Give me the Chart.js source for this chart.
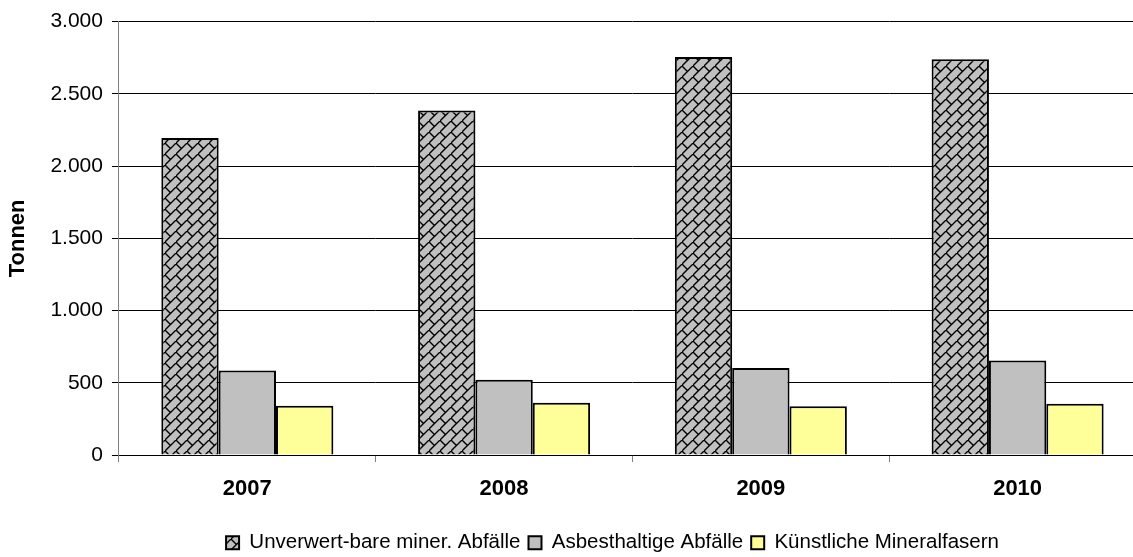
<!DOCTYPE html>
<html lang="de">
<head>
    <meta charset="UTF-8">
    <title>Abfälle Tonnen</title>
    <style>
        html, body {
            margin: 0;
            padding: 0;
            background: #fff;
            overflow: hidden;
        }
        .wrap {
            width: 1240px;
            height: 565px;
        }
    </style>
    <script src="https://cdn.jsdelivr.net/npm/chart.js"></script>
</head>
<body>
    <div class="wrap">
        <canvas id="chart" width="1240" height="565"></canvas>
    </div>

    <script>
        // data
        const years = ['2007', '2008', '2009', '2010'];
        const seriesNames = ['Unverwert-bare miner. Abfälle', 'Asbesthaltige Abfälle', 'Künstliche Mineralfasern'];
        const unverwertbar = [2195, 2385, 2755, 2740];
        const asbest = [585, 522, 603, 655];
        const mineralfasern = [342, 363, 338, 356];
        const yTicks = [0, 500, 1000, 1500, 2000, 2500, 3000];

        // diagonal brick hatch
        function brickPattern() {
            const s = 11;
            const t = document.createElement('canvas');
            t.width = s; t.height = s;
            const c = t.getContext('2d');
            c.fillStyle = '#c0c0c0';
            c.fillRect(0, 0, s, s);
            c.strokeStyle = '#000';
            c.lineWidth = 1.4;
            c.beginPath();
            c.moveTo(-1, s + 1); c.lineTo(s + 1, -1);
            c.moveTo(0, 0); c.lineTo(s / 2, s / 2);
            c.stroke();
            return c.createPattern(t, 'repeat');
        }

        function fmt(v) {
            return String(v).replace(/\B(?=(\d{3})+(?!\d))/g, '.');
        }

        // the legend sits a bit right of the plot centre in the original
        const legendShift = {
            id: 'legendShift',
            afterLayout(chart) {
                chart.legend.left += 37;
                chart.legend.right += 37;
            }
        };

        const ctx = document.getElementById('chart').getContext('2d');
        const common = { borderColor: '#000', borderWidth: 2, barPercentage: 1, categoryPercentage: 0.67 };

        new Chart(ctx, {
            type: 'bar',
            data: {
                labels: years,
                datasets: [
                    Object.assign({ label: seriesNames[0], data: unverwertbar, backgroundColor: brickPattern() }, common),
                    Object.assign({ label: seriesNames[1], data: asbest, backgroundColor: '#c0c0c0' }, common),
                    Object.assign({ label: seriesNames[2], data: mineralfasern, backgroundColor: '#ffff99' }, common)
                ]
            },
            plugins: [legendShift],
            options: {
                responsive: false,
                animation: false,
                layout: { padding: { top: 11, right: 94, left: 5, bottom: 2 } },
                plugins: {
                    tooltip: { enabled: false },
                    legend: {
                        position: 'bottom',
                        labels: {
                            boxWidth: 13,
                            boxHeight: 13,
                            padding: 8,
                            color: '#000',
                            font: { family: 'Arial, Liberation Sans', size: 20.5 }
                        }
                    }
                },
                scales: {
                    x: {
                        afterFit: axis => { axis.height += 8; },
                        grid: { drawOnChartArea: false, drawTicks: true, tickLength: 7, color: '#808080', offset: true },
                        border: { color: '#000' },
                        ticks: {
                            color: '#000',
                            padding: 14,
                            font: { family: 'Arial, Liberation Sans', size: 22, weight: 'bold' }
                        }
                    },
                    y: {
                        min: 0,
                        max: 3000,
                        afterBuildTicks: axis => { axis.ticks = yTicks.map(v => ({ value: v })); },
                        grid: { color: '#000', lineWidth: 1, tickLength: 7, tickColor: '#000' },
                        border: { color: '#808080' },
                        ticks: {
                            color: '#000',
                            padding: 9,
                            font: { family: 'Arial, Liberation Sans', size: 21 },
                            callback: v => fmt(v)
                        },
                        title: {
                            display: true,
                            text: 'Tonnen',
                            color: '#000',
                            padding: { top: 0, bottom: 10 },
                            font: { family: 'Arial, Liberation Sans', size: 22, weight: 'bold' }
                        }
                    }
                }
            }
        });
    </script>
</body>
</html>
